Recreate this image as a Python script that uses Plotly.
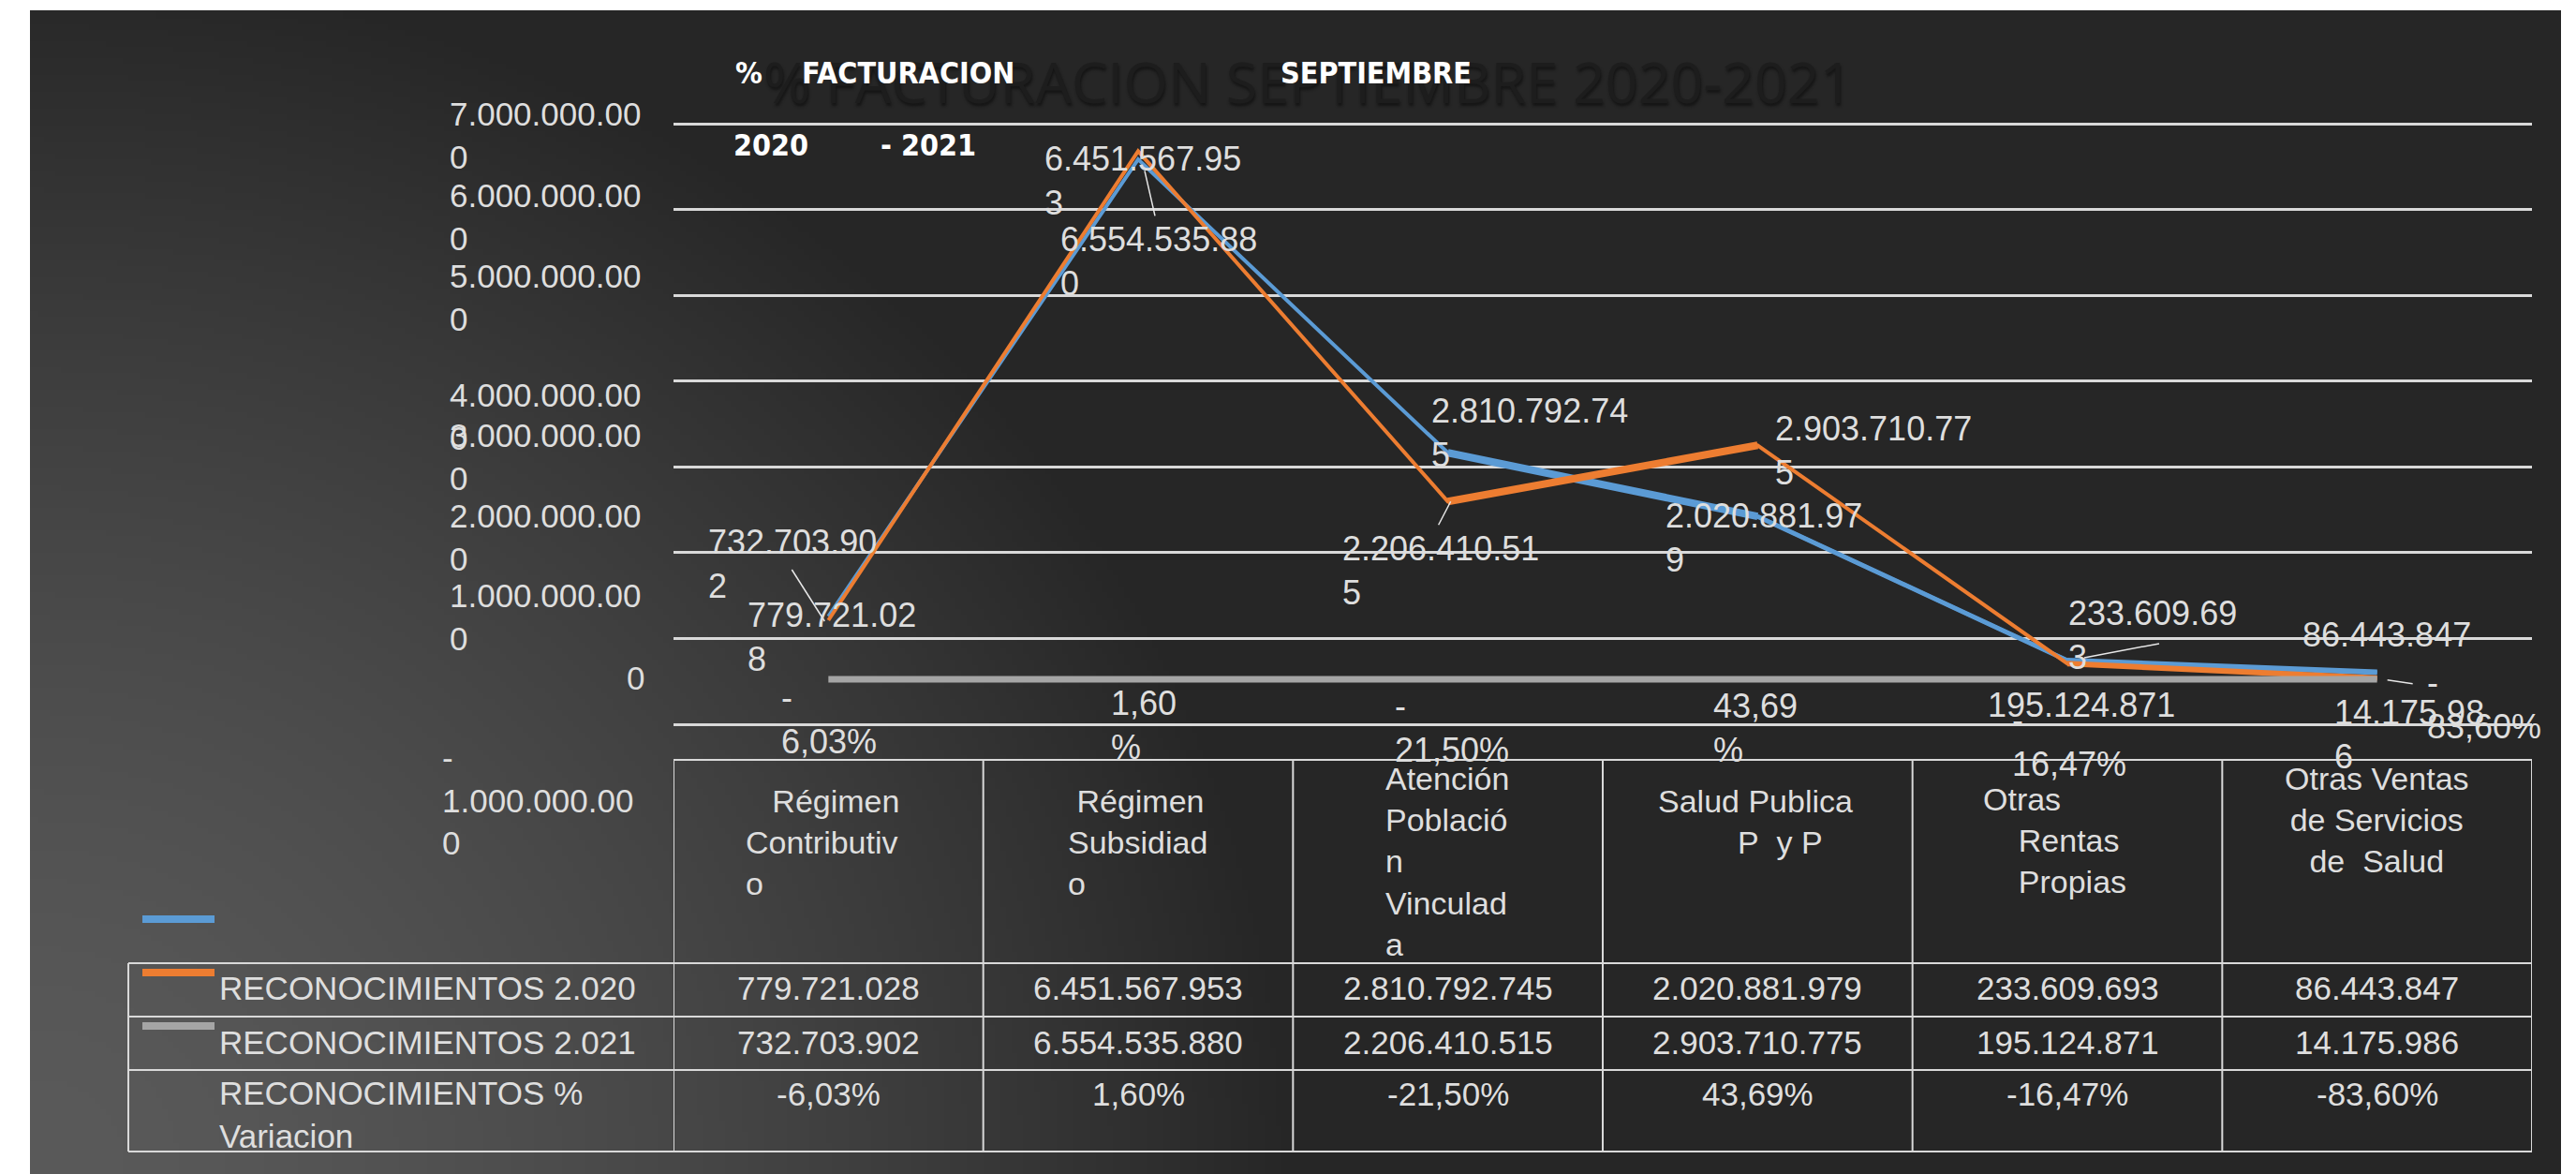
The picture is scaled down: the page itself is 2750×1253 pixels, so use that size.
import base64
import struct
import zlib

import numpy as np
import plotly.graph_objects as go

W, H = 2750, 1253          # target picture size
OFF = 8                    # page body margin of the browser
FW, FH = W - OFF, H - OFF  # figure size

# ---------------- data ----------------
categories = [
    "Régimen Contributivo",
    "Régimen Subsidiado",
    "Atención Población Vinculada",
    "Salud Publica P y P",
    "Otras Rentas Propias",
    "Otras Ventas de Servicios de Salud",
]
header_labels = [
    "&nbsp;&nbsp;&nbsp;Régimen<br>Contributiv<br>o",
    "&nbsp;Régimen<br>Subsidiad<br>o",
    "Atención<br>Població<br>n<br>Vinculad<br>a",
    "Salud Publica<br>" + "&nbsp;" * 9 + "P&nbsp; y P",
    "Otras<br>&nbsp;&nbsp;&nbsp;&nbsp;Rentas<br>&nbsp;&nbsp;&nbsp;&nbsp;Propias",
    "Otras Ventas<br>de Servicios<br>de&nbsp; Salud",
]
reconocimientos_2020 = [779721028, 6451567953, 2810792745, 2020881979, 233609693, 86443847]
reconocimientos_2021 = [732703902, 6554535880, 2206410515, 2903710775, 195124871, 14175986]
variacion_pct = [-6.03, 1.60, -21.50, 43.69, -16.47, -83.60]
series_names = ["RECONOCIMIENTOS 2.020", "RECONOCIMIENTOS 2.021", "RECONOCIMIENTOS %<br>Variacion"]
y_tick_values = [7e9, 6e9, 5e9, 4e9, 3e9, 2e9, 1e9, 0, -1e9]
title_ghost = "% FACTURACION SEPTIEMBRE 2020-2021"

# ---------------- style ----------------
BLUE, ORANGE, GRAY = "#5B9BD5", "#ED7D31", "#A5A5A5"
TXT = "#dedede"
GRID = "#d9d9d9"
FONT = "Liberation Sans, Arial, sans-serif"
blue_seg_w = [4, 4, 8, 5, 6]
orange_seg_w = [4, 4, 8, 4, 6]


def px(x):
    return (x - OFF) / FW


def py(y):
    return 1 - (y - OFF) / FH


def fmt_int(v):
    return f"{int(round(v)):,}".replace(",", ".")


def wrap(s, n):
    return s if len(s) <= n else s[:n] + "<br>" + s[n:]


def fmt_pct(v):
    return f"{v:.2f}".replace(".", ",") + "%"


# ---------------- background gradient image ----------------
def png_bytes(arr):
    h, w, _ = arr.shape
    raw = b"".join(b"\x00" + arr[i].tobytes() for i in range(h))

    def chunk(t, d):
        c = struct.pack(">I", len(d)) + t + d
        return c + struct.pack(">I", zlib.crc32(t + d) & 0xFFFFFFFF)

    return (b"\x89PNG\r\n\x1a\n"
            + chunk(b"IHDR", struct.pack(">IIBBBBB", w, h, 8, 2, 0, 0, 0))
            + chunk(b"IDAT", zlib.compress(raw, 9))
            + chunk(b"IEND", b""))


BX0, BY0, BX1, BY1 = 32, 11, 2734, 1253
iw, ih = 450, 207
xs = BX0 + (np.arange(iw) + 0.5) * (BX1 - BX0) / iw
ys = BY0 + (np.arange(ih) + 0.5) * (BY1 - BY0) / ih
XX, YY = np.meshgrid(xs, ys)
d = np.sqrt((XX - 40) ** 2 + ((YY - 1240) * 1.05) ** 2)
f = np.clip(d / 1346.0, 0, 1) ** 1.5
c = 0x5A + (0x26 - 0x5A) * f
img = np.clip(np.stack([c, c, c], axis=-1), 0, 255).astype(np.uint8)
img_uri = "data:image/png;base64," + base64.b64encode(png_bytes(img)).decode()

# ---------------- axes geometry ----------------
X_DOM = [px(719), px(2703)]
Y0_PX, Y_PX_PER_UNIT = 725 - OFF, 86 / 1e9          # data axis (0 at 725 px)
G0_PX, G_PX_PER_UNIT = 773 - OFF, 91.57 / 1e9       # grid axis (0 at 773 px)
y_range = [(Y0_PX - FH) / Y_PX_PER_UNIT, Y0_PX / Y_PX_PER_UNIT]
g_range = [(G0_PX - FH) / G_PX_PER_UNIT, G0_PX / G_PX_PER_UNIT]

fig = go.Figure()

# invisible trace keeps grid axis alive
fig.add_trace(go.Scatter(x=[categories[0]], y=[0], yaxis="y2", mode="markers",
                         marker=dict(opacity=0), hoverinfo="skip", showlegend=False))

for vals, col, widths in [(reconocimientos_2020, BLUE, blue_seg_w),
                          (reconocimientos_2021, ORANGE, orange_seg_w)]:
    fig.add_trace(go.Scatter(x=categories, y=vals, mode="lines",
                             line=dict(color=col, width=4), hoverinfo="skip"))
    for i, w in enumerate(widths):
        if w > 4:
            fig.add_trace(go.Scatter(x=categories[i:i + 2], y=vals[i:i + 2], mode="lines",
                                     line=dict(color=col, width=w), hoverinfo="skip"))
fig.add_trace(go.Scatter(x=categories, y=[v / 100 for v in variacion_pct], mode="lines",
                         line=dict(color=GRAY, width=7), hoverinfo="skip"))

annotations = []
shapes = []

# ---------------- data labels ----------------
blue_wrap = [10, 12, 12, 12, 10, 12]
orange_wrap = [10, 12, 12, 12, 12, 9]
blue_off = [(-88, 22), (-102, 23), (-20, -21), (-100, 23), (-1, -27), (-82, -40)]
orange_off = [(-130, -60), (-85, 118), (-115, 74), (17, 6), (-87, 44), (-48, 60)]
gray_off = [(-52, 43), (-31, 49), (-59, 52), (-49, 52), (-61, 67), (51, 27)]

for vals, wraps, offs in [(reconocimientos_2020, blue_wrap, blue_off),
                          (reconocimientos_2021, orange_wrap, orange_off)]:
    for cat, v, w, (dx, dy) in zip(categories, vals, wraps, offs):
        annotations.append(dict(x=cat, y=v, xref="x", yref="y", text=wrap(fmt_int(v), w),
                                showarrow=False, xanchor="left", yanchor="middle", align="left",
                                xshift=dx, yshift=-dy, font=dict(family=FONT, size=36, color=TXT)))
for cat, v, (dx, dy) in zip(categories, variacion_pct, gray_off):
    if v < 0:
        t = "-<br>" + fmt_pct(abs(v))
    else:
        t = fmt_pct(v)[:-1] + "<br>%"
    annotations.append(dict(x=cat, y=v / 100, xref="x", yref="y", text=t,
                            showarrow=False, xanchor="left", yanchor="middle", align="left",
                            xshift=dx, yshift=-dy, font=dict(family=FONT, size=36, color=TXT)))

# leader lines (screen offsets, y down) anchored at data points
leaders = [
    (reconocimientos_2021, 0, (-39, -54), (-4, 1)),
    (reconocimientos_2021, 1, (7, 21), (18, 69)),
    (reconocimientos_2021, 2, (3, 0), (-10, 25)),
    (reconocimientos_2020, 4, (18, -3), (98, -18)),
    (reconocimientos_2021, 5, (11, 2), (38, 6)),
]
for vals, i, (ax0, ay0), (ax1, ay1) in leaders:
    shapes.append(dict(type="line", xref="x", yref="y", xsizemode="pixel", ysizemode="pixel",
                       xanchor=i, yanchor=vals[i], x0=ax0, x1=ax1, y0=-ay0, y1=-ay1,
                       line=dict(color="#e8e8e8", width=1.5), layer="above"))

# ---------------- y tick labels ----------------
tick_shift_down = [12, 8, 2, 38, -11, -16, -23, -50, -11]
for v, sd in zip(y_tick_values, tick_shift_down):
    if v > 0:
        t, xa, xp = wrap(fmt_int(v), 12), "left", 478
    elif v == 0:
        t, xa, xp = "0", "right", 690
    else:
        t, xa, xp = "-<br>" + wrap(fmt_int(abs(v)), 12), "left", 470
    annotations.append(dict(x=px(xp), y=v, xref="paper", yref="y2", text=t, showarrow=False,
                            xanchor=xa, yanchor="middle", align="left", yshift=-sd,
                            font=dict(family=FONT, size=35, color=TXT)))

# ---------------- titles ----------------
annotations.append(dict(x=px(1980), y=py(86), xref="paper", yref="paper", text=title_ghost,
                        showarrow=False, xanchor="right", yanchor="middle",
                        font=dict(family="Open Sans, DejaVu Sans, sans-serif", size=61,
                                  color="#1d1d1d", shadow="1px 3px 3px #151515")))
NARROW = "Liberation Sans Narrow, Arial Narrow, DejaVu Sans Condensed, sans-serif"
for txt, x, y in [("%", 783, 78), ("FACTURACION", 854, 78), ("SEPTIEMBRE", 1365, 78),
                  ("2020", 781, 155), ("- 2021", 938, 155)]:
    annotations.append(dict(x=px(x), y=py(y), xref="paper", yref="paper", text=txt,
                            showarrow=False, xanchor="left", yanchor="middle",
                            font=dict(family=NARROW, size=32, color="#ffffff", weight="bold")))

# ---------------- table ----------------
T_LEFT, T_RIGHT = 137, 2703
HDR_TOP, R1, R2, R3, T_BOT = 811, 1028, 1085, 1142, 1229
LW = dict(color=GRID, width=2)
shapes.append(dict(type="line", xref="paper", yref="paper", x0=px(719), x1=px(T_RIGHT),
                   y0=py(HDR_TOP), y1=py(HDR_TOP), line=LW))
for yy in [R1, R2, R3, T_BOT]:
    shapes.append(dict(type="line", xref="paper", yref="paper", x0=px(T_LEFT), x1=px(T_RIGHT),
                       y0=py(yy), y1=py(yy), line=LW))
for k in range(len(categories) + 1):
    shapes.append(dict(type="line", xref="x", yref="paper", x0=k - 0.5, x1=k - 0.5,
                       y0=py(HDR_TOP), y1=py(T_BOT), line=LW))
shapes.append(dict(type="line", xref="paper", yref="paper", x0=px(T_LEFT), x1=px(T_LEFT),
                   y0=py(R1), y1=py(T_BOT), line=LW))

# legend keys
for col, yy in [(BLUE, 981), (ORANGE, 1038), (GRAY, 1095)]:
    shapes.append(dict(type="rect", xref="paper", yref="paper", x0=px(152), x1=px(229),
                       y0=py(yy - 4), y1=py(yy + 4), fillcolor=col, line=dict(width=0)))

# row labels
for name, yc in zip(series_names, [1054, 1112, 1189]):
    annotations.append(dict(x=px(232), y=py(yc), xref="paper", yref="paper", text=name,
                            showarrow=False, xanchor="left", yanchor="middle", align="left",
                            font=dict(family=FONT, size=35, color=TXT)))

# header labels
hdr_first_line = [857, 857, 833, 857, 855, 833]
hdr_xshift = [-90, -77, -69, -108, -92, 0]
hdr_anchor = ["left", "left", "left", "left", "left", "center"]
for cat, lab, y1, xs_, xa in zip(categories, header_labels, hdr_first_line, hdr_xshift, hdr_anchor):
    annotations.append(dict(x=cat, y=py(y1 - 23), xref="x", yref="paper", text=lab,
                            showarrow=False, xanchor=xa, yanchor="top", align=xa, xshift=xs_,
                            font=dict(family=FONT, size=34, color=TXT)))

# cell values
for cat, a, b, p in zip(categories, reconocimientos_2020, reconocimientos_2021, variacion_pct):
    for txt, yc in [(fmt_int(a), 1054), (fmt_int(b), 1112), (fmt_pct(p), 1167)]:
        annotations.append(dict(x=cat, y=py(yc), xref="x", yref="paper", text=txt,
                                showarrow=False, xanchor="center", yanchor="middle",
                                font=dict(family=FONT, size=35, color=TXT)))

fig.update_layout(
    width=FW, height=FH, autosize=False,
    margin=dict(l=0, r=0, t=0, b=0, pad=0),
    paper_bgcolor="#ffffff", plot_bgcolor="rgba(0,0,0,0)",
    showlegend=False,
    xaxis=dict(domain=X_DOM, type="category", categoryorder="array", categoryarray=categories,
               range=[-0.5, len(categories) - 0.5], showticklabels=False, showgrid=False,
               zeroline=False, showline=False, ticks=""),
    yaxis=dict(domain=[0, 1], range=y_range, showticklabels=False, showgrid=False,
               zeroline=False, showline=False, ticks=""),
    yaxis2=dict(overlaying="y", anchor="x", range=g_range, tickvals=y_tick_values[:-1],
                showticklabels=False, showgrid=True, gridcolor=GRID, gridwidth=2.5,
                zeroline=False, showline=False, ticks=""),
    images=[dict(source=img_uri, xref="paper", yref="paper", x=px(BX0), y=py(BY0),
                 sizex=(BX1 - BX0) / FW, sizey=(BY1 - BY0) / FH, xanchor="left", yanchor="top",
                 sizing="stretch", layer="below")],
    annotations=annotations,
    shapes=shapes,
)

fig.write_html("out.html")
